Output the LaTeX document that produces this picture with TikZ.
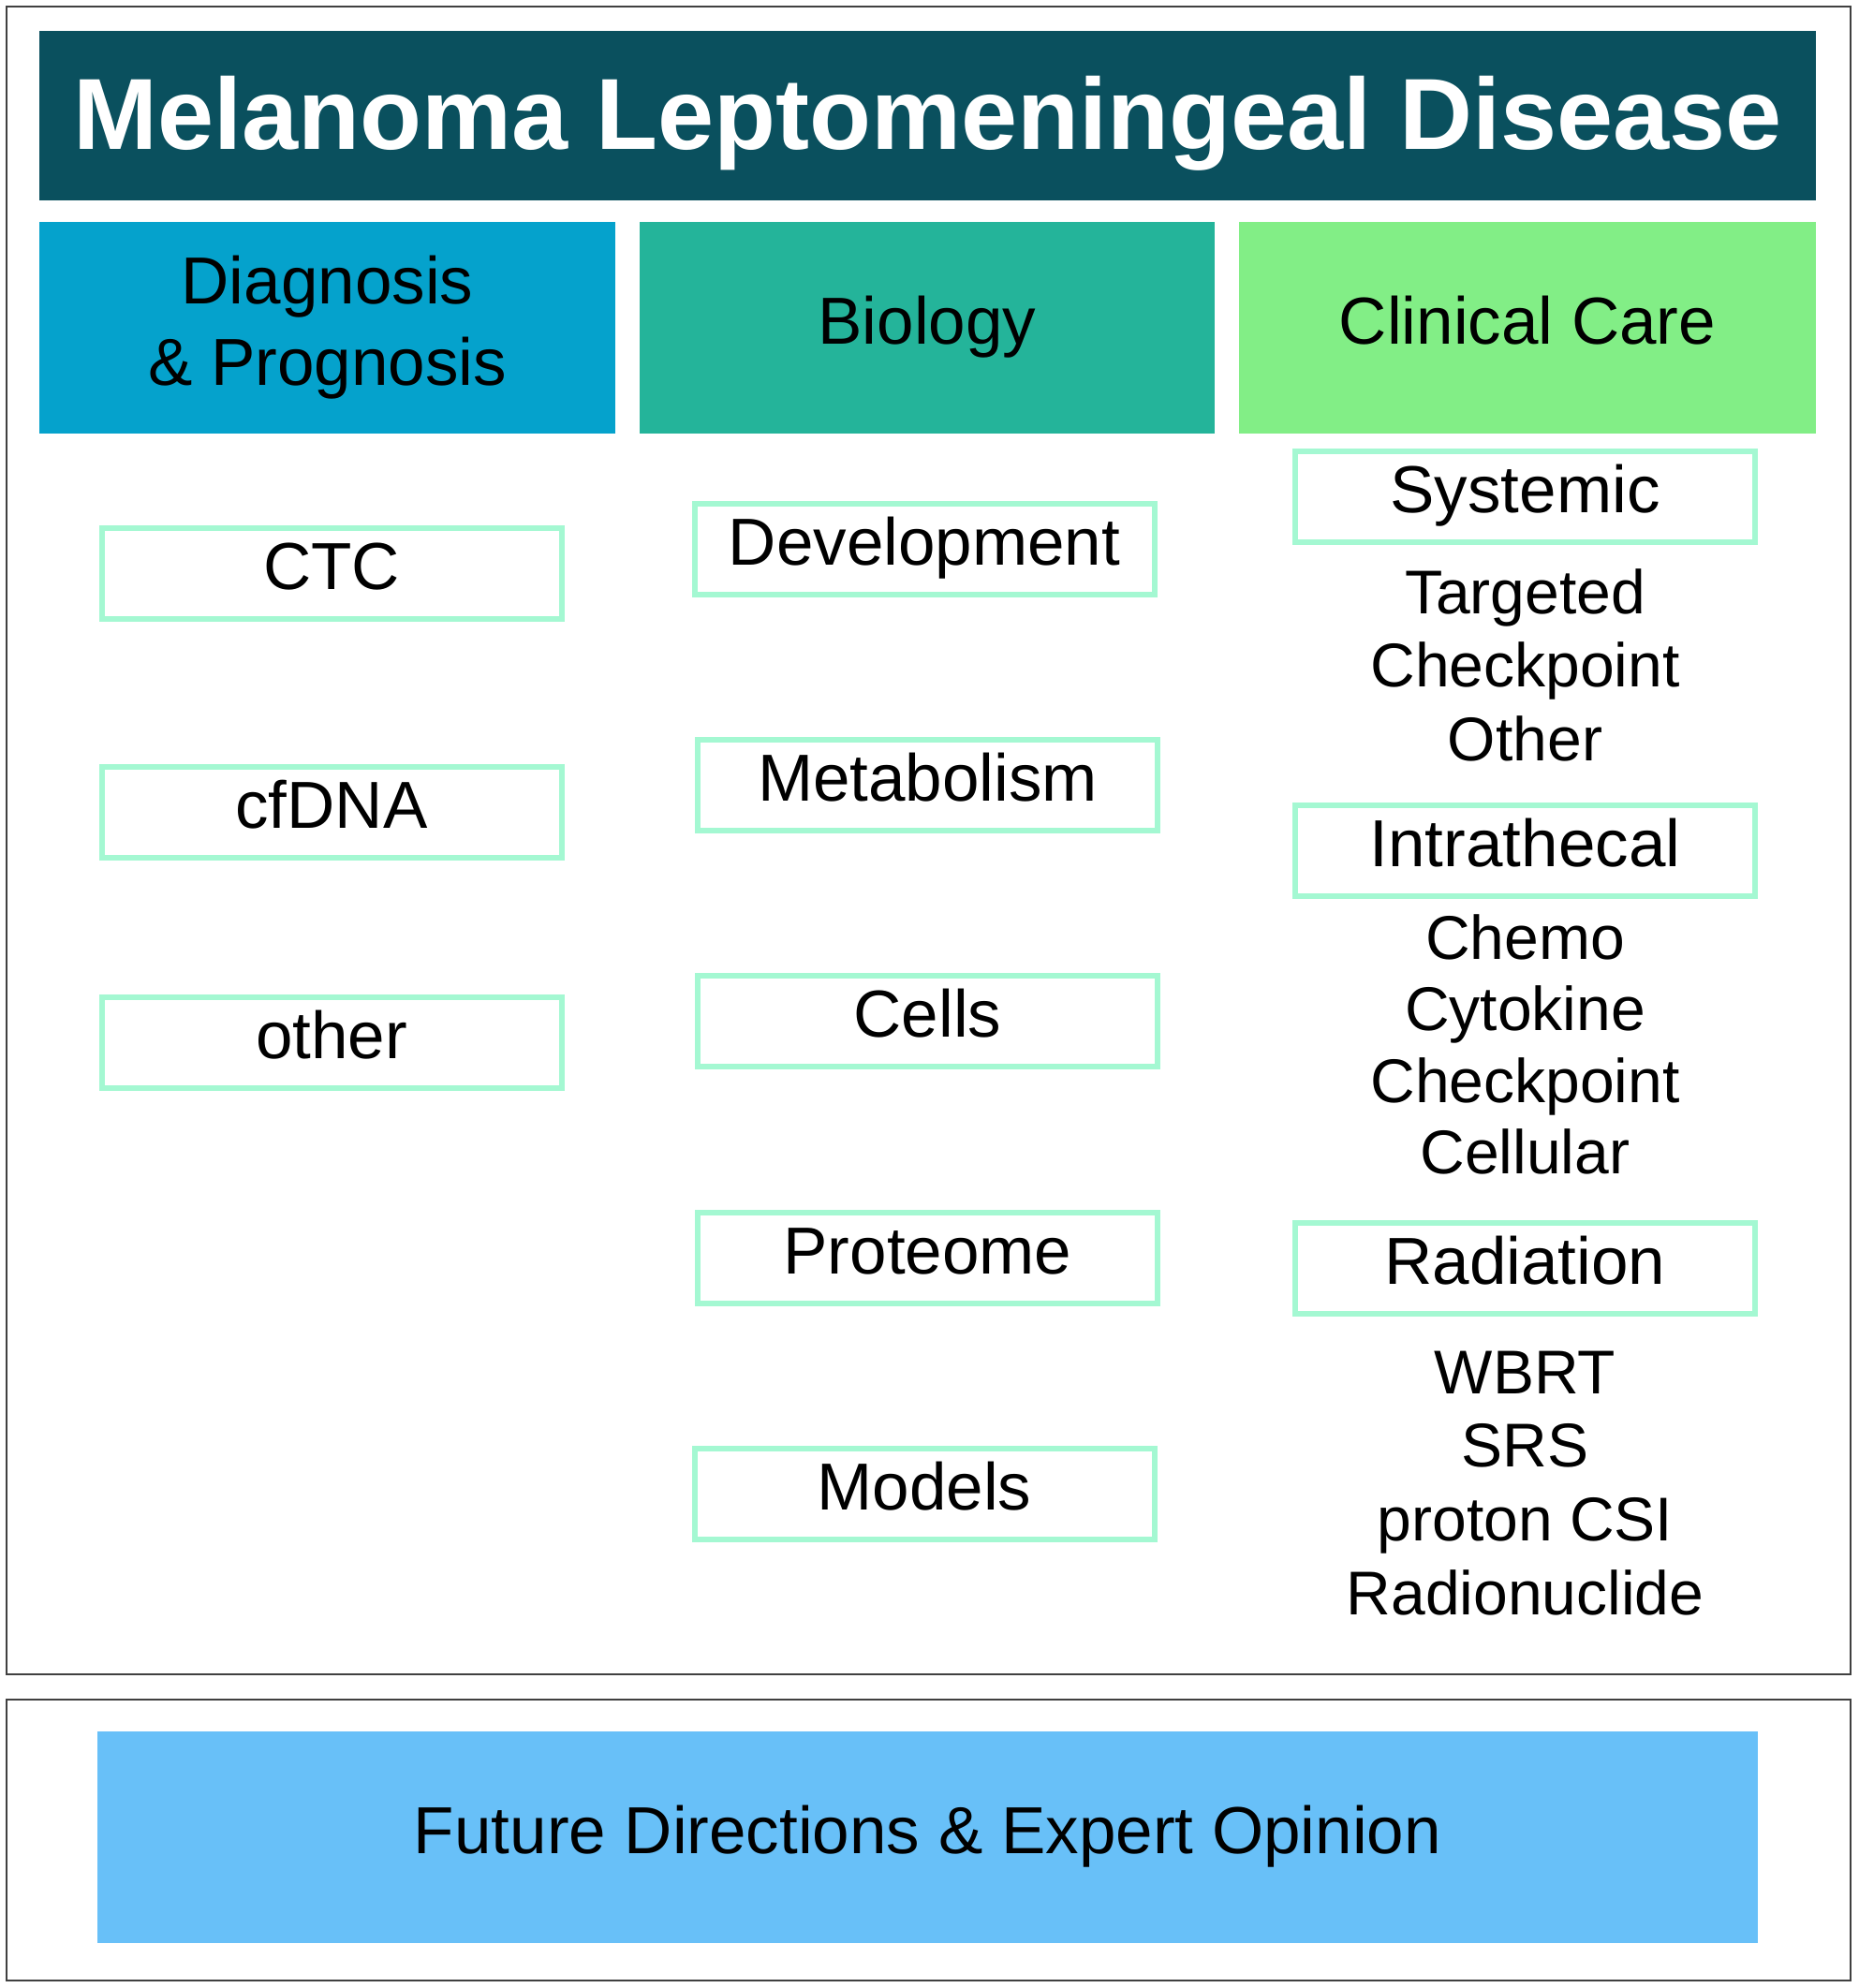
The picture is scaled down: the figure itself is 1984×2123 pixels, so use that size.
\documentclass[tikz,border=0pt]{standalone}
\usepackage{fontspec}
\setmainfont{Liberation Sans}
\definecolor{titlebg}{HTML}{0A505E}
\definecolor{diagbg}{HTML}{05A2CC}
\definecolor{biobg}{HTML}{24B49A}
\definecolor{clinbg}{HTML}{82EE86}
\definecolor{boxline}{HTML}{A4F8D2}
\definecolor{futbg}{HTML}{68C0F8}
\definecolor{frameline}{HTML}{404040}
\begin{document}
\begin{tikzpicture}[x=1pt,y=-1pt,
  frame/.style={draw=frameline,line width=2.5pt},
  hdr/.style={fill=#1,draw=none,inner sep=0pt,minimum height=226pt,align=center,
     font=\fontsize{71}{87}\selectfont},
  fixht/.style={text height=51pt,text depth=17pt},
  itembox/.style={draw=boxline,line width=6pt,fill=white,inner sep=0pt,minimum width=491pt,minimum height=97pt,
     font=\fontsize{71}{85}\selectfont,fixht},
  listtxt/.style={anchor=base,inner sep=0pt,font=\fontsize{66}{79}\selectfont}
]
\useasboundingbox (0,0) rectangle (1984,2123);
\fill[white] (0,0) rectangle (1984,2123);
% outer frames
\draw[frame] (7,7) rectangle (1976,1788);
\draw[frame] (7,1815) rectangle (1976,2115);
% title
\node[fill=titlebg,inner sep=0pt,minimum width=1897pt,minimum height=181pt,text=white,
  font=\fontsize{108}{120}\selectfont\bfseries,text height=77pt,text depth=5pt] (title) at (990.5,123.5) {Melanoma Leptomeningeal Disease};
% headers
\node[hdr=diagbg,minimum width=615pt] (diag) at (349.5,350) {Diagnosis\\\& Prognosis};
\node[hdr=biobg,minimum width=614pt,fixht] (bio) at (990,350) {Biology};
\node[hdr=clinbg,minimum width=616pt,fixht] (clin) at (1631,350) {Clinical Care};
% left column
\node[itembox] (ctc) at (354,612) {CTC};
\node[itembox] (cfdna) at (354,867.5) {cfDNA};
\node[itembox] (other) at (354,1113) {other};
% middle column
\node[itembox] (dev) at (987,586.5) {Development};
\node[itembox] (meta) at (990.5,838.5) {Metabolism};
\node[itembox] (cells) at (990.5,1090.5) {Cells};
\node[itembox] (prot) at (990.5,1343.5) {Proteome};
\node[itembox] (models) at (987,1595.5) {Models};
% right column
\node[itembox] (sys) at (1628.5,530.5) {Systemic};
\node[listtxt] (s1) at (1628.5,655) {Targeted};
\node[listtxt] (s2) at (1628.5,733) {Checkpoint};
\node[listtxt] (s3) at (1628.5,812) {Other};
\node[itembox] (intra) at (1628.5,908.5) {Intrathecal};
\node[listtxt] (i1) at (1628.5,1024) {Chemo};
\node[listtxt] (i2) at (1628.5,1100) {Cytokine};
\node[listtxt] (i3) at (1628.5,1177) {Checkpoint};
\node[listtxt] (i4) at (1628.5,1253) {Cellular};
\node[itembox] (rad) at (1628.5,1354.5) {Radiation};
\node[listtxt] (r1) at (1628.5,1488) {WBRT};
\node[listtxt] (r2) at (1628.5,1566) {SRS};
\node[listtxt] (r3) at (1628.5,1645) {proton CSI};
\node[listtxt] (r4) at (1628.5,1724) {Radionuclide};
% bottom
\node[fill=futbg,inner sep=0pt,minimum width=1773pt,minimum height=226pt,
  font=\fontsize{71}{85}\selectfont,fixht] (future) at (990.5,1962) {Future Directions \& Expert Opinion};
\end{tikzpicture}
\end{document}
